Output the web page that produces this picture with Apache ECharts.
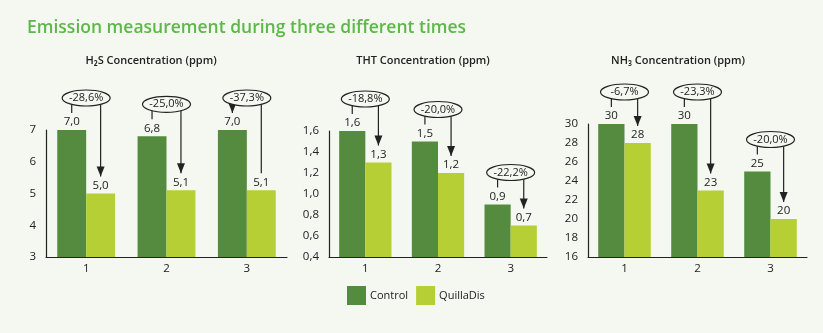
<!DOCTYPE html>
<html>
<head>
<meta charset="utf-8">
<script src="https://cdn.jsdelivr.net/npm/echarts@6/dist/echarts.min.js"></script>
<style>
html,body{margin:0;padding:0;background:#f5f7f1;}
#chart{width:823px;height:333px;}
</style>
</head>
<body>
<div id="chart"></div>
<script>
// ---- data ----
const categories = ['1', '2', '3'];
const seriesNames = ['Control', 'QuillaDis'];
const chartTitles = ['H₂S Concentration (ppm)', 'THT Concentration (ppm)', 'NH₃ Concentration (ppm)'];

const h2sControl = [7.0, 6.8, 7.0];
const h2sQuilla = [5.0, 5.1, 5.1];
const h2sChange = ['-28,6%', '-25,0%', '-37,3%'];
const h2sArrowOn = ['QuillaDis', 'QuillaDis', 'Control'];

const thtControl = [1.6, 1.5, 0.9];
const thtQuilla = [1.3, 1.2, 0.7];
const thtChange = ['-18,8%', '-20,0%', '-22,2%'];
const thtArrowOn = ['QuillaDis', 'QuillaDis', 'QuillaDis'];

const nh3Control = [30, 30, 25];
const nh3Quilla = [28, 23, 20];
const nh3Change = ['-6,7%', '-23,3%', '-20,0%'];
const nh3ArrowOn = ['QuillaDis', 'QuillaDis', 'QuillaDis'];

const yTicks = [
  {min: 3, max: 7, interval: 1, decimals: 0},
  {min: 0.4, max: 1.6, interval: 0.2, decimals: 1},
  {min: 16, max: 30, interval: 2, decimals: 0}
];
const labelDecimals = [1, 1, 0];

// ---- styles ----
const BG = '#f5f7f1';
const C_CTRL = '#558b3e';
const C_QUIL = '#b6cf35';
const INK = '#222222';
const FONT = '"Open Sans", "DejaVu Sans", sans-serif';
const CAT_GAP = 0.28;

const panels = [
  {ctrl: h2sControl, quil: h2sQuilla, change: h2sChange, arrow: h2sArrowOn},
  {ctrl: thtControl, quil: thtQuilla, change: thtChange, arrow: thtArrowOn},
  {ctrl: nh3Control, quil: nh3Quilla, change: nh3Change, arrow: nh3ArrowOn}
];
const grids = [
  {left: 46, top: 130, width: 241, height: 127},
  {left: 329, top: 131, width: 218, height: 126},
  {left: 588, top: 124, width: 219, height: 133}
];
const titleCenters = [151, 423, 678];

function fmt(v, d) { return Number(v).toFixed(d).replace('.', ','); }

function makeAnno(changes) {
  return function (params, api) {
    const i = api.value(0);
    const c = api.value(1), q = api.value(2), tgt = api.value(3);
    const band = api.size([1, 0])[0];
    const off = band * (1 - CAT_GAP) / 4;
    const top = api.coord([i, Math.max(c, q)]);
    const cx = top[0];
    const xc = cx - off, xq = cx + off;
    const ey = top[1] - 32;
    const yc = api.coord([i, c])[1] - 17;
    const yq = api.coord([i, q])[1] - 17;
    const rx = 24, ry = 8;
    const lineStyle = {stroke: INK, lineWidth: 1.2, fill: null};
    const children = [];
    children.push({type: 'line', shape: {x1: xc, y1: ey, x2: xc, y2: yc}, style: lineStyle});
    children.push({type: 'line', shape: {x1: xq, y1: ey, x2: xq, y2: yq}, style: lineStyle});
    const ax = tgt === 1 ? xc : xq;
    const ay = tgt === 1 ? yc : yq;
    children.push({type: 'polygon', shape: {points: [[ax - 4, ay - 10], [ax + 4, ay - 10], [ax, ay]]}, style: {fill: INK}});
    children.push({type: 'ellipse', shape: {cx: cx, cy: ey, rx: rx, ry: ry}, style: {fill: BG, stroke: INK, lineWidth: 1.2}});
    children.push({type: 'text', style: {text: changes[params.dataIndex], x: cx, y: ey, align: 'center', verticalAlign: 'middle', fill: INK, font: '11px ' + FONT}});
    return {type: 'group', children: children};
  };
}

const option = {
  backgroundColor: BG,
  animation: false,
  textStyle: {fontFamily: FONT},
  title: [
    {text: 'Emission measurement during three different times', left: 27, top: 19, padding: 0,
     textStyle: {color: '#5cb947', fontSize: 17.5, fontWeight: 600, fontFamily: FONT}}
  ].concat(chartTitles.map((t, k) => ({
    text: t, left: titleCenters[k], top: 55, textAlign: 'center', padding: 0,
    textStyle: {color: INK, fontSize: 11, fontWeight: 600, fontFamily: FONT}
  }))),
  legend: {
    data: seriesNames, left: 347, top: 286, itemWidth: 19, itemHeight: 19, itemGap: 8, padding: 0,
    icon: 'rect', textStyle: {color: INK, fontSize: 11, fontFamily: FONT, padding: [0, 0, 0, -1]}
  },
  grid: grids,
  xAxis: grids.map((g, k) => ({
    type: 'category', gridIndex: k, data: categories,
    axisLine: {lineStyle: {color: INK, width: 1.2}},
    axisTick: {show: false},
    axisLabel: {color: INK, fontSize: 11.5, margin: 6}
  })),
  yAxis: yTicks.map((t, k) => ({
    type: 'value', gridIndex: k, min: t.min, max: t.max, interval: t.interval,
    axisLine: {show: true, lineStyle: {color: INK, width: 1.2}},
    axisTick: {show: false},
    splitLine: {show: false},
    axisLabel: {color: INK, fontSize: 11.5, margin: 10, formatter: v => fmt(v, t.decimals)}
  })),
  series: []
};

panels.forEach((p, k) => {
  const d = labelDecimals[k];
  [[p.ctrl, C_CTRL, seriesNames[0]], [p.quil, C_QUIL, seriesNames[1]]].forEach(([vals, col, name]) => {
    option.series.push({
      type: 'bar', name: name, xAxisIndex: k, yAxisIndex: k, data: vals,
      barGap: '0%', barCategoryGap: (CAT_GAP * 100) + '%',
      itemStyle: {color: col},
      label: {show: true, position: 'top', distance: 2, color: INK, fontSize: 11.5,
              formatter: pr => fmt(pr.value, d)}
    });
  });
  option.series.push({
    type: 'custom', xAxisIndex: k, yAxisIndex: k, silent: true, z: 10,
    data: categories.map((c, i) => [i, p.ctrl[i], p.quil[i], p.arrow[i] === 'Control' ? 1 : 0]),
    renderItem: makeAnno(p.change),
    clip: false
  });
});

const chart = echarts.init(document.getElementById('chart'));
chart.setOption(option);
</script>
</body>
</html>
